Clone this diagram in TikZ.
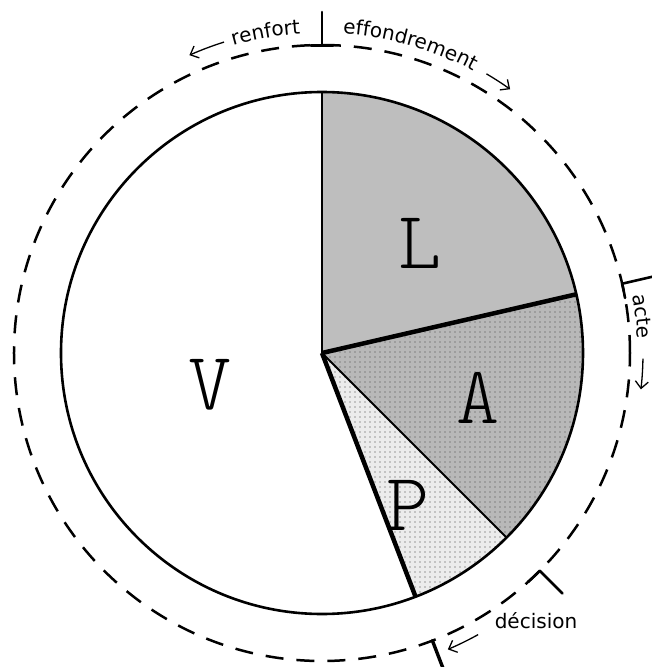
\documentclass[tikz,border=0pt]{standalone}
\usepackage{fontspec}
\setsansfont{DejaVu Sans}
\newfontfamily\slicefont{lmmonolt10-regular.otf}
\usepackage{xcolor}
\usetikzlibrary{arrows.meta, patterns.meta, decorations.text}

\definecolor{lgray}{RGB}{190,190,190}
\definecolor{agray}{RGB}{184,184,184}
\definecolor{adots}{RGB}{130,130,130}
\definecolor{pgray}{RGB}{236,236,236}
\definecolor{pdots}{RGB}{155,155,155}

\begin{document}
\begin{tikzpicture}[x=1pt, y=1pt,
    every node/.style={align=center},
    letter/.style={font=\slicefont\fontsize{82}{82}\selectfont},
    hand/.style={font=\sffamily\fontsize{20}{22}\selectfont},
    thin cut/.style={line width=2pt},
    heavy cut/.style={line width=4.5pt},
    tick/.style={line width=2.6pt, line cap=round},
    turn/.style={line width=1.3pt, -{Straight Barb[length=7pt, width=13pt]}},
    dotfill/.style={pattern={Dots[distance=5pt, radius=0.85pt]}, pattern color=#1}]
    \useasboundingbox (-322,-314) rectangle (330,353);
    \def\R{261}
    \def\D{308}

    % slices
    \fill[lgray] (0,0) -- (13:\R) arc[start angle=13, end angle=90, radius=\R] -- cycle;
    \fill[agray] (0,0) -- (-45:\R) arc[start angle=-45, end angle=13, radius=\R] -- cycle;
    \fill[dotfill=adots] (0,0) -- (-45:\R) arc[start angle=-45, end angle=13, radius=\R] -- cycle;
    \fill[pgray] (0,0) -- (-69:\R) arc[start angle=-69, end angle=-45, radius=\R] -- cycle;
    \fill[dotfill=pdots] (0,0) -- (-69:\R) arc[start angle=-69, end angle=-45, radius=\R] -- cycle;

    \draw[line width=2.6pt] (0,0) circle[radius=\R];
    \draw[thin cut] (0,0) -- (90:\R);
    \draw[heavy cut] (0,0) -- (13:\R);
    \draw[thin cut] (0,0) -- (-45:\R);
    \draw[heavy cut] (0,0) -- (-69:\R);

    \node (L) [letter] at (98,110) {L};
    \node (A) [letter] at (156,-45) {A};
    \node (P) [letter] at (86,-152) {P};
    \node (V) [letter] at (-112,-32) {V};

    % outer ring
    \draw[line width=2.5pt, dash pattern=on 18pt off 13pt] (0,0) circle[radius=\D];
    \draw[tick] (90:\D) -- (90:341);
    \draw[tick] (92.1:\D) -- (87.9:\D);
    \draw[tick] (13:\D) -- (13:342);
    \draw[tick] (13:\D) arc[start angle=13, end angle=10.3, radius=\D];
    \draw[tick] (-45:\D) -- (-45:340);
    \draw[tick] (-45:\D) arc[start angle=-45, end angle=-48, radius=\D];
    \draw[tick, line width=3.4pt] (-69:\D) -- (-69:340);

    \path[decorate, decoration={text along path, text align=center,
        text={|\sffamily\fontsize{20}{22}\selectfont|renfort}}]
        (110:320) arc[start angle=110, end angle=90, radius=320];
    \path[decorate, decoration={text along path, text align=center,
        text={|\sffamily\fontsize{20}{22}\selectfont|effondrement}}]
        (88.5:320) arc[start angle=88.5, end angle=59.5, radius=320];
    \path[decorate, decoration={text along path, text align=center,
        text={|\sffamily\fontsize{20}{22}\selectfont|acte}}]
        (13:316) arc[start angle=13, end angle=0, radius=316];
    \node (decision) [hand] at (214,-268) {décision};

    \draw[turn] (107.5:326) arc[start angle=107.5, end angle=114, radius=326];
    \draw[turn] (59.5:324) arc[start angle=59.5, end angle=54.5, radius=324];
    \draw[turn] (-1:321) arc[start angle=-1, end angle=-6.5, radius=321];
    \draw[turn] (-61:322) arc[start angle=-61, end angle=-67, radius=322];
\end{tikzpicture}
\end{document}
